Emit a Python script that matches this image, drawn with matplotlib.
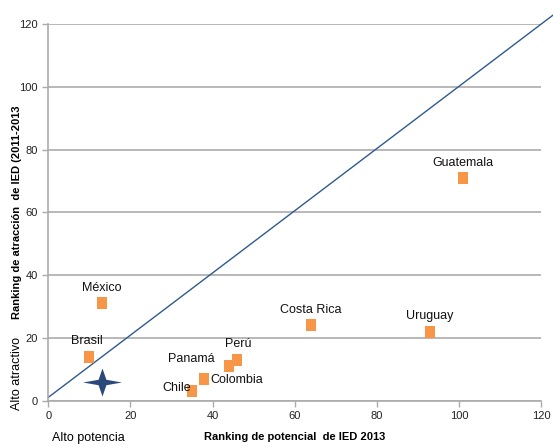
import numpy as np
import matplotlib
matplotlib.use('Agg')
import matplotlib.pyplot as plt
from matplotlib.path import Path

matplotlib.rcParams['font.family'] = ['Liberation Sans Narrow', 'Liberation Sans', 'DejaVu Sans']

# -- Data --
countries = ['México', 'Brasil', 'Chile', 'Colombia', 'Panamá', 'Perú',
             'Costa Rica', 'Uruguay', 'Guatemala']
potencial = [13, 10, 35, 38, 44, 46, 64, 93, 101]
atraccion = [31, 14, 3, 7, 11, 13, 24, 22, 71]
# label offsets (points) relative to each marker
labelOffsets = [(0, 11), (-2, 11), (-11, 2), (23, -1), (-27, 5), (1, 11),
                (0, 11), (0, 11), (0, 11)]
starPoint = (13, 6)
diagonal = ([0, 124], [1, 124])

orange = '#F79646'
navy = '#2F5A8F'
gridColor = '#ABABAB'
fontSizeLabels = 8
fontSizeTicks = 8
fontSizeNames = 9

# 4-point star, wider than tall
starVerts = [(-1.0, 0), (-0.2, 0.14), (0, 0.72), (0.2, 0.14), (1.0, 0),
             (0.2, -0.14), (0, -0.72), (-0.2, -0.14), (-1.0, 0)]
starMarker = Path(starVerts, [Path.MOVETO] + [Path.LINETO] * 7 + [Path.CLOSEPOLY])
# slightly tall rectangle for the country markers
rectMarker = Path([(-0.8, -1), (0.8, -1), (0.8, 1), (-0.8, 1), (-0.8, -1)],
                  [Path.MOVETO] + [Path.LINETO] * 3 + [Path.CLOSEPOLY])

fig = plt.figure(figsize=(5.53, 4.47), dpi=100)
ax = fig.add_axes([0.0873, 0.104, 0.891, 0.8416])

ax.plot(diagonal[0], diagonal[1], color=navy, lw=1, clip_on=False, zorder=2)
ax.plot(potencial, atraccion, marker=rectMarker, ls='none', color=orange, ms=9, mew=0, zorder=3)
ax.plot(starPoint[0], starPoint[1], marker=starMarker, color='#2B4A7A', ms=28, mew=0, zorder=3)

for name, x, y, off in zip(countries, potencial, atraccion, labelOffsets):
    ax.annotate(name, (x, y), xytext=off, textcoords='offset points',
                ha='center', va='center', fontsize=fontSizeNames, color='#111111')

ax.set_xlim(0, 120)
ax.set_ylim(0, 120)
ax.set_xticks(np.arange(0, 121, 20))
ax.set_yticks(np.arange(0, 121, 20))
ax.yaxis.grid(True, color=gridColor, lw=1.2)
ax.set_axisbelow(True)
for side in ['top', 'right']:
    ax.spines[side].set_visible(False)
for side in ['left', 'bottom']:
    ax.spines[side].set_color(gridColor)
    ax.spines[side].set_linewidth(1.2)
ax.tick_params(axis='both', colors=gridColor, labelcolor='#222222',
               labelsize=fontSizeTicks, length=4, width=1)

ax.set_xlabel('Ranking de potencial  de IED 2013', fontsize=fontSizeLabels,
              fontweight='bold', family='Liberation Sans', labelpad=8)
fig.text(0.03, 0.525, 'Ranking de atracción  de IED (2011-2013', rotation=90,
         fontsize=fontSizeLabels, fontweight='bold', family='Liberation Sans',
         ha='center', va='center')
fig.text(0.03, 0.165, 'Alto atractivo', rotation=90, fontsize=fontSizeNames,
         ha='center', va='center')
fig.text(0.16, 0.02, 'Alto potencia', fontsize=fontSizeNames, ha='center', va='center')

fig.savefig('out.png', dpi=100)
